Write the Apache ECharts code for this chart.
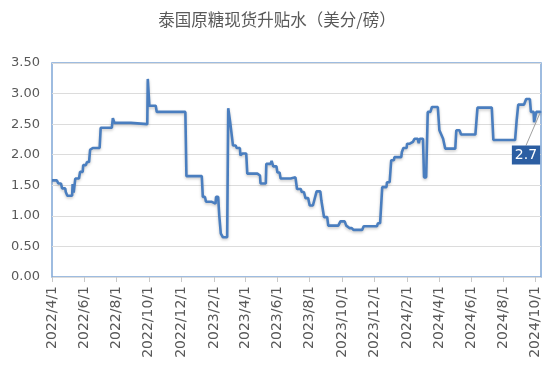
<!DOCTYPE html>
<html>
<head>
<meta charset="utf-8">
<script src="https://cdn.jsdelivr.net/npm/echarts@6/dist/echarts.min.js"></script>
<style>html,body{margin:0;padding:0;background:#fff}#c{width:554px;height:380px}</style>
</head>
<body>
<div id="c"></div>
<script>
// Step segments: start date, end date, value (US cents/lb)
var segStart = ['2022-04-01','2022-04-13','2022-04-20','2022-04-27','2022-04-30','2022-05-10','2022-05-12','2022-05-15','2022-05-24','2022-05-30',
  '2022-06-06','2022-06-12','2022-06-17','2022-07-02','2022-07-25','2022-07-28','2022-08-29','2022-09-29','2022-10-02','2022-10-16',
  '2022-12-11','2023-01-11','2023-01-17','2023-01-29','2023-02-05','2023-02-11','2023-02-14','2023-02-18','2023-02-28','2023-03-04',
  '2023-03-09','2023-03-16','2023-03-23','2023-03-27','2023-04-05','2023-04-25','2023-04-30','2023-05-11','2023-05-21','2023-05-24',
  '2023-06-01','2023-06-07','2023-06-28','2023-07-08','2023-07-17','2023-07-24','2023-08-01','2023-08-14','2023-08-23','2023-08-28',
  '2023-09-05','2023-09-28','2023-10-09','2023-10-15','2023-10-23','2023-11-11','2023-12-08','2023-12-16','2023-12-25','2024-01-02',
  '2024-01-08','2024-01-22','2024-01-25','2024-02-01','2024-02-07','2024-02-15','2024-02-23','2024-02-25','2024-03-04','2024-03-11',
  '2024-03-19','2024-04-02','2024-04-09','2024-04-13','2024-05-04','2024-05-13','2024-06-13','2024-07-13','2024-08-26','2024-08-29',
  '2024-09-13','2024-09-22','2024-09-28','2024-10-02'];
var segEnd = ['2022-04-10','2022-04-18','2022-04-26','2022-04-29','2022-05-09','2022-05-11','2022-05-13','2022-05-22','2022-05-29','2022-06-04',
  '2022-06-10','2022-06-15','2022-06-30','2022-07-23','2022-07-26','2022-08-28','2022-09-28','2022-09-30','2022-10-14','2022-12-09',
  '2023-01-09','2023-01-15','2023-01-28','2023-02-04','2023-02-09','2023-02-13','2023-02-17','2023-02-26','2023-03-01','2023-03-06',
  '2023-03-14','2023-03-22','2023-03-24','2023-04-03','2023-04-24','2023-04-29','2023-05-10','2023-05-19','2023-05-22','2023-05-30',
  '2023-06-05','2023-06-26','2023-07-05','2023-07-15','2023-07-21','2023-07-29','2023-08-07','2023-08-21','2023-08-24','2023-09-03',
  '2023-09-24','2023-10-06','2023-10-11','2023-10-19','2023-11-08','2023-12-06','2023-12-12','2023-12-24','2023-12-30','2024-01-07',
  '2024-01-21','2024-01-24','2024-01-31','2024-02-06','2024-02-12','2024-02-21','2024-02-24','2024-03-02','2024-03-08','2024-03-16',
  '2024-03-30','2024-04-05','2024-04-11','2024-05-02','2024-05-10','2024-06-09','2024-07-10','2024-08-23','2024-08-27','2024-09-09',
  '2024-09-20','2024-09-27','2024-09-29','2024-10-10'];
var segValue = [1.58,1.53,1.45,1.39,1.33,1.52,1.38,1.61,1.72,1.83,
  1.88,2.08,2.11,2.44,2.60,2.52,2.50,3.24,2.80,2.70,
  1.65,1.31,1.23,1.20,1.31,1.01,0.71,0.65,2.76,2.51,
  2.15,2.11,1.99,2.02,1.69,1.66,1.53,1.85,1.90,1.81,
  1.71,1.61,1.63,1.44,1.39,1.29,1.17,1.40,1.25,0.98,
  0.84,0.91,0.84,0.80,0.77,0.83,0.88,1.47,1.55,1.91,
  1.96,2.04,2.11,2.18,2.21,2.26,2.19,2.26,1.63,2.70,
  2.78,2.40,2.26,2.10,2.40,2.33,2.77,2.24,2.56,2.82,
  2.91,2.70,2.53,2.70];
var tickDates = ['2022-04-01','2022-06-01','2022-08-01','2022-10-01','2022-12-01','2023-02-01','2023-04-01','2023-06-01',
  '2023-08-01','2023-10-01','2023-12-01','2024-02-01','2024-04-01','2024-06-01','2024-08-01','2024-10-01'];
var lastLabel = '2.7';

var DAY = 86400000;
function ts(s){ var p = s.split('-'); return Date.UTC(+p[0], +p[1]-1, +p[2]) / DAY; }
var points = [];
for (var i = 0; i < segValue.length; i++) {
  points.push([ts(segStart[i]), segValue[i]]);
  if (segEnd[i] !== segStart[i]) points.push([ts(segEnd[i]), segValue[i]]);
}
var lastPoint = points[points.length - 1];
var tickTs = tickDates.map(ts);

var chart = echarts.init(document.getElementById('c'), null, {renderer: 'canvas'});
chart.setOption({
  animation: false,
  backgroundColor: '#ffffff',
  title: {
    text: '泰国原糖现货升贴水（美分/磅）', left: 'center', top: 6,
    textStyle: {fontFamily: 'Noto Sans CJK SC', fontSize: 16.5, fontWeight: 'normal', color: '#595959'}
  },
  grid: {left: 52, right: 13, top: 63, bottom: 103, show: true, borderColor: '#7fa6d6', borderWidth: 1.5, backgroundColor: 'transparent'},
  xAxis: {
    type: 'value', min: ts('2022-04-01'), max: ts('2024-10-11'),
    axisLine: {show: false},
    splitLine: {show: false},
    axisTick: {show: true, customValues: tickTs, length: 5, lineStyle: {color: '#c8c8c8'}},
    axisLabel: {
      customValues: tickTs, rotate: 90, margin: 9, color: '#595959', fontSize: 14, fontFamily: 'DejaVu Sans',
      formatter: function (v) { var d = new Date(Math.round(v) * DAY); return d.getUTCFullYear() + '/' + (d.getUTCMonth() + 1) + '/' + d.getUTCDate(); }
    }
  },
  yAxis: {
    type: 'value', min: 0, max: 3.5, interval: 0.5,
    axisLine: {show: false}, axisTick: {show: false},
    splitLine: {lineStyle: {color: '#dcdcdc', width: 1}},
    axisLabel: {color: '#595959', fontSize: 13, fontFamily: 'DejaVu Sans', margin: 12,
      formatter: function (v) { return v.toFixed(2); }}
  },
  series: [{
    type: 'line', data: points, symbol: 'none', showSymbol: false,
    lineStyle: {color: '#4a7ebf', width: 2.6, shadowBlur: 3, shadowColor: 'rgba(0,0,0,0.22)', shadowOffsetY: 1.5},
    itemStyle: {color: '#4a7ebf'}
  }, {
    type: 'scatter', data: [lastPoint], symbolSize: 2, itemStyle: {color: '#4a7ebf', opacity: 1},
    silent: true, z: 5,
    label: {
      show: true, formatter: lastLabel, color: '#ffffff', fontSize: 14, opacity: 1,
      fontFamily: 'DejaVu Sans', backgroundColor: '#2c5ea2', padding: [3, 3, 2, 3]
    },
    labelLine: {show: true, lineStyle: {color: '#a0a0a0', width: 1, opacity: 1}},
    labelLayout: {x: 526, y: 155, align: 'center', verticalAlign: 'middle'}
  }]
});
</script>
</body>
</html>
